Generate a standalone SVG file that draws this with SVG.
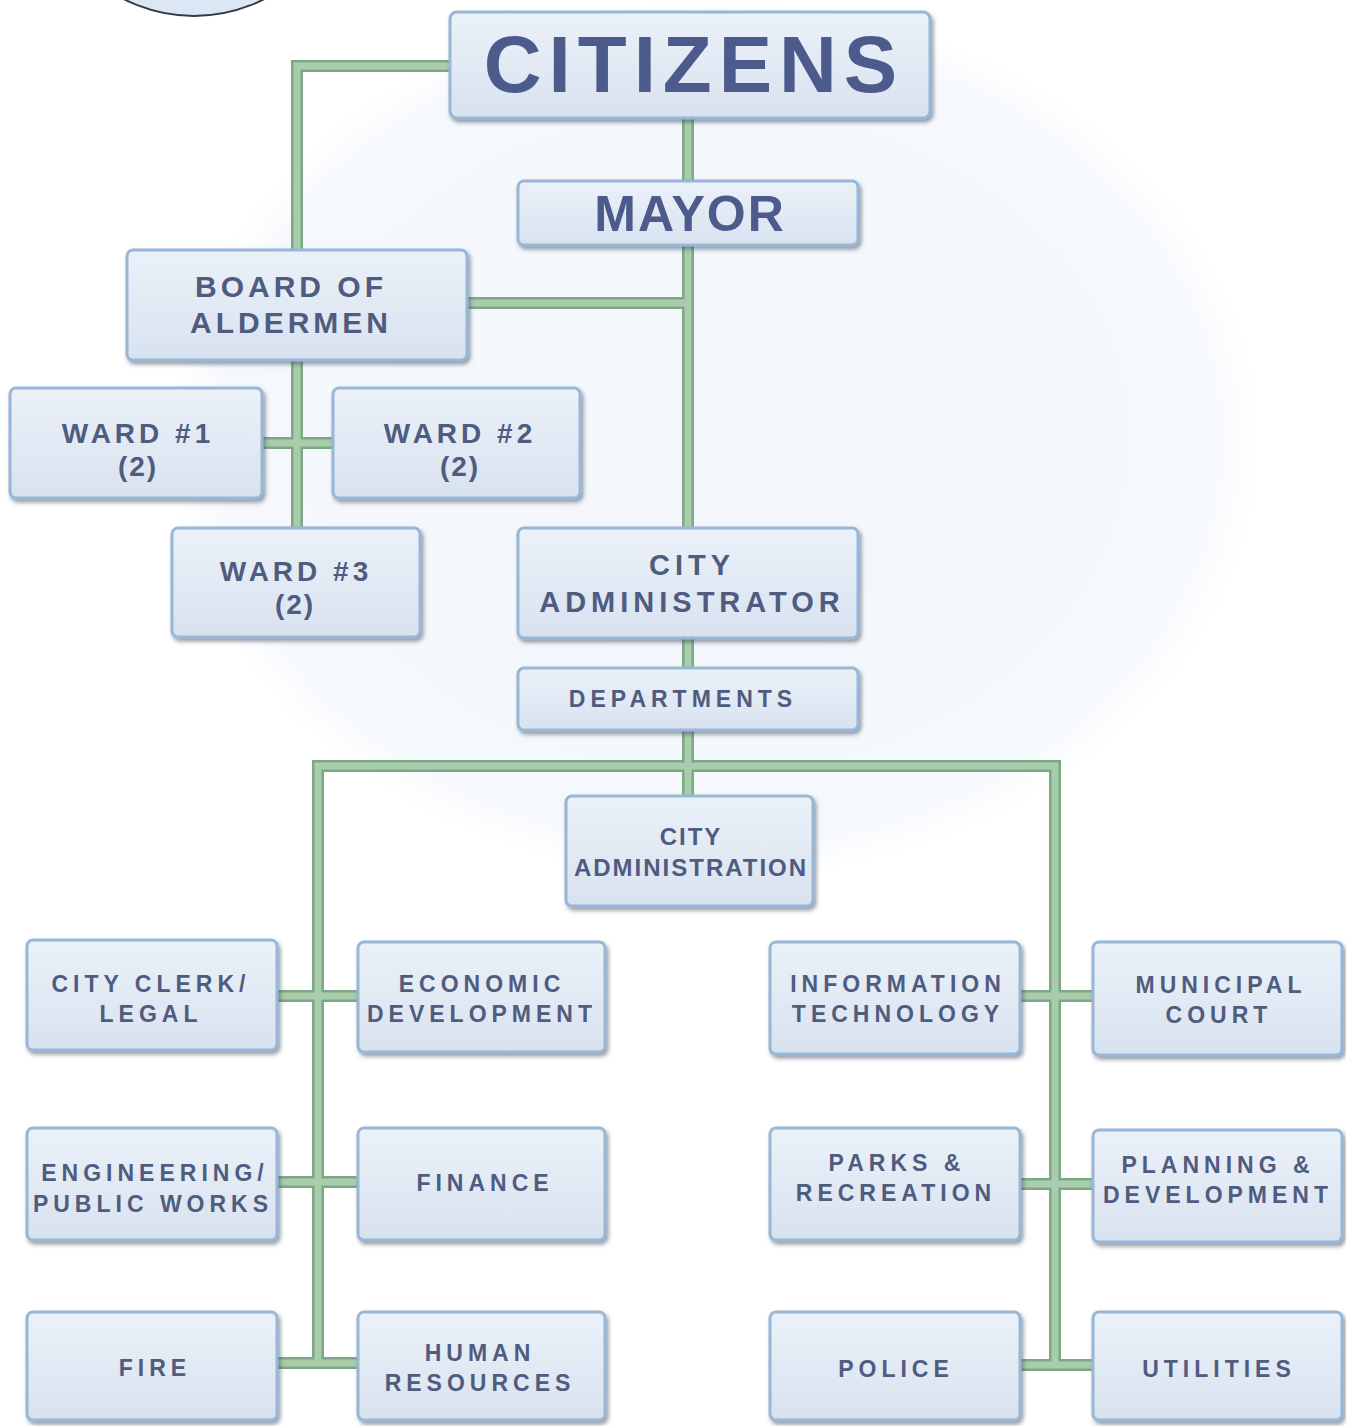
<svg xmlns="http://www.w3.org/2000/svg" xmlns:xlink="http://www.w3.org/1999/xlink" width="1346" height="1426" viewBox="0 0 1346 1426">
<style>
.box{fill:url(#boxg);stroke:#98b6d6;stroke-width:3;filter:url(#sh)}
.t{font-family:"Liberation Sans",Arial,sans-serif;font-weight:bold;fill:#4f5c80;text-anchor:middle}
.big{fill:#4c5a8c}
.edge{fill:none;stroke:#7da886;stroke-width:12}
.core{fill:none;stroke:#a9cdac;stroke-width:7}
.s23{font-size:23px;letter-spacing:5px}
.s27{font-size:28px;letter-spacing:4px}
</style>
<defs>
<linearGradient id="boxg" x1="0" y1="0" x2="0" y2="1">
<stop offset="0" stop-color="#ebf1f9"/>
<stop offset="1" stop-color="#d8e2ef"/>
</linearGradient>
<radialGradient id="bgc" cx="0.5" cy="0.5" r="0.5">
<stop offset="0" stop-color="#f3f7fb"/>
<stop offset="0.9" stop-color="#f5f8fc"/>
<stop offset="1" stop-color="#ffffff"/>
</radialGradient>
<filter id="sh" x="-10%" y="-10%" width="125%" height="130%">
<feDropShadow dx="2" dy="3" stdDeviation="2" flood-color="#3a4660" flood-opacity="0.55"/>
</filter>
<path id="conn" d="M450 66H297V250M688 118V182M688 245V530M467 303H688M297 360V528M262 443H333M688 638V668M688 730V797M318 1363V766H1055V1365M277 996H358M277 1182H358M277 1363H358M1020 996H1093M1020 1184H1093M1020 1365H1093"/>
</defs>
<rect width="1346" height="1426" fill="#ffffff"/>
<ellipse cx="715" cy="440" rx="545" ry="440" fill="url(#bgc)"/>
<circle cx="194" cy="-138" r="154" fill="#dce7f5" stroke="#333a44" stroke-width="2"/>
<g id="connectors">
<use xlink:href="#conn" class="edge"/>
<use xlink:href="#conn" class="core"/>
</g>
<g id="citizens"><rect class="box" x="450" y="12" width="480" height="106" rx="7"/><text class="t big" x="694" y="92" style="font-size:80px;letter-spacing:7px">CITIZENS</text></g>
<g id="mayor"><rect class="box" x="518" y="181" width="340" height="64" rx="6"/><text class="t big" x="690" y="231" style="font-size:50px;letter-spacing:2px">MAYOR</text></g>
<g id="board"><rect class="box" x="127" y="250" width="340" height="110" rx="6"/><text class="t" x="291" y="297" style="font-size:30px;letter-spacing:4px">BOARD OF</text><text class="t" x="291" y="333" style="font-size:30px;letter-spacing:4px">ALDERMEN</text></g>
<g id="ward1"><rect class="box" x="10" y="388" width="252" height="110" rx="6"/><text class="t s27" x="138" y="443">WARD #1</text><text class="t s27" x="138" y="476" style="letter-spacing:2px">(2)</text></g>
<g id="ward2"><rect class="box" x="333" y="388" width="247" height="110" rx="6"/><text class="t s27" x="460" y="443">WARD #2</text><text class="t s27" x="460" y="476" style="letter-spacing:2px">(2)</text></g>
<g id="ward3"><rect class="box" x="172" y="528" width="248" height="109" rx="6"/><text class="t s27" x="296" y="581">WARD #3</text><text class="t s27" x="295" y="614" style="letter-spacing:2px">(2)</text></g>
<g id="cityadministrator"><rect class="box" x="518" y="528" width="340" height="110" rx="6"/><text class="t" x="692" y="575" style="font-size:29px;letter-spacing:5px">CITY</text><text class="t" x="692" y="612" style="font-size:29px;letter-spacing:5px">ADMINISTRATOR</text></g>
<g id="departments"><rect class="box" x="518" y="668" width="340" height="62" rx="6"/><text class="t s23" x="683" y="707">DEPARTMENTS</text></g>
<g id="cityadministration"><rect class="box" x="566" y="796" width="247" height="110" rx="6"/><text class="t" x="691" y="845" style="font-size:24px;letter-spacing:2px">CITY</text><text class="t" x="691" y="876" style="font-size:24px;letter-spacing:2px">ADMINISTRATION</text></g>
<g id="cityclerk"><rect class="box" x="27" y="940" width="250" height="110" rx="6"/><text class="t s23" x="151" y="992">CITY CLERK/</text><text class="t s23" x="151" y="1022">LEGAL</text></g>
<g id="economic"><rect class="box" x="358" y="942" width="247" height="110" rx="6"/><text class="t s23" x="482" y="992">ECONOMIC</text><text class="t s23" x="482" y="1022">DEVELOPMENT</text></g>
<g id="engineering"><rect class="box" x="27" y="1128" width="250" height="112" rx="6"/><text class="t s23" x="155" y="1181">ENGINEERING/</text><text class="t s23" x="153" y="1212">PUBLIC WORKS</text></g>
<g id="finance"><rect class="box" x="358" y="1128" width="247" height="112" rx="6"/><text class="t s23" x="485" y="1191">FINANCE</text></g>
<g id="fire"><rect class="box" x="27" y="1312" width="250" height="108" rx="6"/><text class="t s23" x="155" y="1376">FIRE</text></g>
<g id="humanresources"><rect class="box" x="358" y="1312" width="247" height="108" rx="6"/><text class="t s23" x="480" y="1361">HUMAN</text><text class="t s23" x="480" y="1391">RESOURCES</text></g>
<g id="infotech"><rect class="box" x="770" y="942" width="250" height="112" rx="6"/><text class="t s23" x="898" y="992">INFORMATION</text><text class="t s23" x="898" y="1022">TECHNOLOGY</text></g>
<g id="municipalcourt"><rect class="box" x="1093" y="942" width="249" height="113" rx="6"/><text class="t s23" x="1221" y="993">MUNICIPAL</text><text class="t s23" x="1219" y="1023">COURT</text></g>
<g id="parks"><rect class="box" x="770" y="1128" width="250" height="112" rx="6"/><text class="t s23" x="897" y="1171">PARKS &amp;</text><text class="t s23" x="896" y="1201">RECREATION</text></g>
<g id="planning"><rect class="box" x="1093" y="1130" width="249" height="112" rx="6"/><text class="t s23" x="1218" y="1173">PLANNING &amp;</text><text class="t s23" x="1218" y="1203">DEVELOPMENT</text></g>
<g id="police"><rect class="box" x="770" y="1312" width="250" height="108" rx="6"/><text class="t s23" x="896" y="1377">POLICE</text></g>
<g id="utilities"><rect class="box" x="1093" y="1312" width="249" height="108" rx="6"/><text class="t s23" x="1219" y="1377">UTILITIES</text></g>
</svg>
